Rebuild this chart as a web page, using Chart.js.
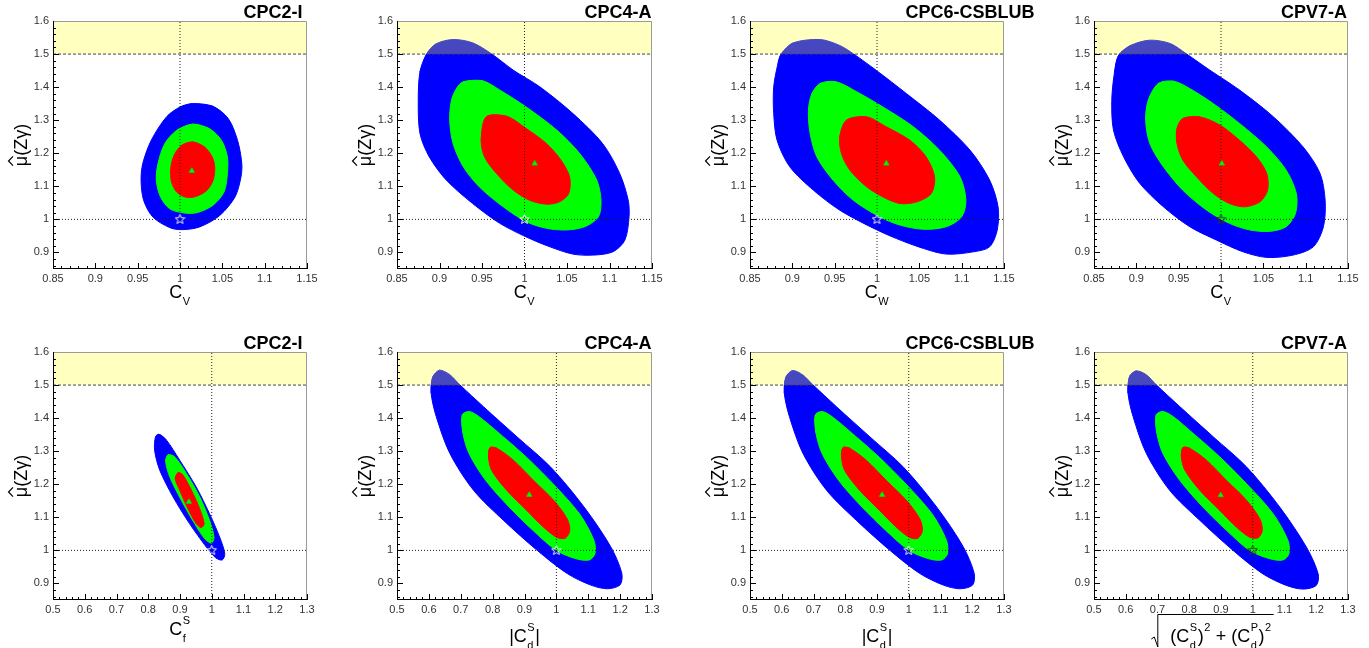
<!DOCTYPE html>
<html lang="en">
<head>
<meta charset="UTF-8">
<title>mu_zgamma_contours</title>
<script src="https://cdn.jsdelivr.net/npm/chart.js"></script>
<style>
  body { margin: 0; background: #fff; }
  #wrap { position: relative; width: 1369px; height: 648px; overflow: hidden; }
  #wrap canvas { position: absolute; }
</style>
</head>
<body>
<div id="wrap"></div>
<script>
// ---- axis ticks / ranges ----
const xTicksTop = [0.85, 0.9, 0.95, 1, 1.05, 1.1, 1.15];
const xTicksBottom = [0.5, 0.6, 0.7, 0.8, 0.9, 1, 1.1, 1.2, 1.3];
const yTicks = [0.9, 1, 1.1, 1.2, 1.3, 1.4, 1.5, 1.6];
const yRange = [0.85, 1.6];
const excludedBand = [1.5, 1.6];
const smPoint = [1, 1];
const models = ['CPC2-I', 'CPC4-A', 'CPC6-CSBLUB', 'CPV7-A'];

// ---- contours [x, y] (blue = 3 sigma, green = 2 sigma, red = 1 sigma) ----
// top row: C_V / C_W
const cpc2TopBlue = [[1.015,1.350],[1.039,1.342],[1.057,1.305],[1.068,1.239],[1.073,1.169],[1.072,1.128],[1.065,1.068],[1.047,1.012],[1.023,0.977],[1.002,0.969],[0.988,0.975],[0.968,1.007],[0.957,1.058],[0.954,1.118],[0.956,1.169],[0.966,1.239],[0.984,1.310],[1.000,1.340]];
const cpc2TopGreen = [[1.015,1.288],[1.035,1.274],[1.049,1.239],[1.056,1.189],[1.056,1.138],[1.052,1.083],[1.039,1.043],[1.021,1.021],[1.006,1.019],[0.988,1.032],[0.977,1.068],[0.972,1.118],[0.974,1.169],[0.982,1.229],[0.996,1.269]];
const cpc2TopRed = [[1.015,1.234],[1.029,1.219],[1.038,1.189],[1.041,1.158],[1.039,1.118],[1.031,1.086],[1.017,1.068],[1.006,1.068],[0.996,1.083],[0.990,1.113],[0.989,1.153],[0.993,1.194],[1.002,1.224]];
const cpc2TopBest = [1.014, 1.147];

const cpc4TopBlue = [[0.885,1.501],[0.896,1.531],[0.916,1.544],[0.939,1.534],[0.961,1.501],[0.987,1.451],[1.018,1.401],[1.057,1.320],[1.092,1.229],[1.112,1.139],[1.122,1.058],[1.123,1.008],[1.118,0.937],[1.104,0.902],[1.081,0.892],[1.057,0.895],[1.030,0.917],[1.002,0.947],[0.971,0.988],[0.939,1.048],[0.908,1.119],[0.888,1.189],[0.877,1.260],[0.875,1.360],[0.877,1.446]];
const cpc4TopGreen = [[0.928,1.416],[0.951,1.419],[0.971,1.391],[1.002,1.340],[1.038,1.270],[1.065,1.199],[1.085,1.119],[1.090,1.058],[1.087,1.008],[1.071,0.978],[1.049,0.968],[1.026,0.973],[1.002,0.993],[0.975,1.038],[0.947,1.098],[0.928,1.159],[0.916,1.229],[0.912,1.300],[0.914,1.360],[0.920,1.396]];
const cpc4TopRed = [[0.955,1.310],[0.979,1.312],[1.002,1.275],[1.026,1.229],[1.043,1.179],[1.053,1.129],[1.052,1.078],[1.041,1.053],[1.026,1.046],[1.006,1.058],[0.987,1.088],[0.967,1.139],[0.953,1.189],[0.949,1.239]];
const cpc4TopBest = [1.012, 1.169];

const cpc6TopBlue = [[0.887,1.501],[0.901,1.534],[0.933,1.544],[0.956,1.526],[0.972,1.501],[0.999,1.451],[1.035,1.380],[1.074,1.300],[1.110,1.209],[1.133,1.119],[1.143,1.038],[1.142,0.968],[1.133,0.917],[1.114,0.902],[1.082,0.895],[1.055,0.912],[1.023,0.942],[0.992,0.978],[0.956,1.028],[0.925,1.088],[0.897,1.159],[0.882,1.239],[0.878,1.320],[0.878,1.401],[0.883,1.471]];
const cpc6TopGreen = [[0.933,1.411],[0.952,1.416],[0.976,1.386],[1.007,1.340],[1.043,1.280],[1.074,1.209],[1.098,1.129],[1.105,1.058],[1.100,1.008],[1.082,0.978],[1.055,0.970],[1.027,0.983],[1.003,1.008],[0.972,1.058],[0.948,1.119],[0.929,1.189],[0.921,1.260],[0.919,1.330],[0.923,1.380]];
const cpc6TopRed = [[0.964,1.300],[0.988,1.310],[1.011,1.280],[1.039,1.239],[1.058,1.189],[1.068,1.129],[1.064,1.078],[1.047,1.053],[1.027,1.048],[1.007,1.068],[0.988,1.098],[0.968,1.149],[0.958,1.199],[0.956,1.250]];
const cpc6TopBest = [1.011, 1.169];

const cpv7TopBlue = [[0.879,1.496],[0.893,1.526],[0.916,1.542],[0.940,1.532],[0.959,1.501],[0.987,1.451],[1.022,1.391],[1.062,1.310],[1.097,1.219],[1.117,1.139],[1.123,1.058],[1.121,0.978],[1.109,0.917],[1.085,0.892],[1.054,0.885],[1.026,0.902],[0.995,0.937],[0.963,0.978],[0.932,1.038],[0.904,1.109],[0.885,1.189],[0.873,1.270],[0.871,1.360],[0.874,1.441]];
const cpv7TopGreen = [[0.926,1.411],[0.944,1.418],[0.963,1.396],[0.991,1.350],[1.022,1.290],[1.054,1.219],[1.077,1.149],[1.089,1.078],[1.088,1.018],[1.077,0.978],[1.058,0.964],[1.034,0.968],[1.010,0.988],[0.983,1.028],[0.955,1.088],[0.932,1.159],[0.916,1.229],[0.911,1.300],[0.914,1.360]];
const cpv7TopRed = [[0.955,1.305],[0.975,1.310],[0.999,1.285],[1.022,1.239],[1.042,1.189],[1.054,1.139],[1.055,1.088],[1.046,1.053],[1.028,1.038],[1.010,1.048],[0.991,1.078],[0.971,1.129],[0.955,1.179],[0.948,1.229],[0.948,1.275]];
const cpv7TopBest = [1.001, 1.169];

// bottom row: C_f^S, |C_d^S|, sqrt((C_d^S)^2 + (C_d^P)^2)
const cpc2BotBlue = [[0.834,1.351],[0.857,1.334],[0.899,1.273],[0.951,1.192],[0.993,1.111],[1.025,1.040],[1.041,0.990],[1.033,0.971],[1.012,0.978],[0.983,1.010],[0.930,1.081],[0.878,1.162],[0.836,1.243],[0.820,1.303],[0.823,1.344]];
const cpc2BotGreen = [[0.862,1.289],[0.883,1.283],[0.920,1.233],[0.962,1.162],[0.993,1.091],[1.007,1.040],[0.999,1.022],[0.978,1.035],[0.946,1.081],[0.904,1.152],[0.868,1.222],[0.855,1.268]];
const cpc2BotRed = [[0.894,1.235],[0.909,1.228],[0.936,1.182],[0.962,1.126],[0.976,1.081],[0.967,1.069],[0.951,1.081],[0.925,1.126],[0.899,1.182],[0.885,1.217]];
const cpc2BotBest = [0.928, 1.147];

const cpc4BotBlue = [[0.612,1.524],[0.633,1.545],[0.665,1.532],[0.697,1.501],[0.772,1.434],[0.877,1.343],[0.982,1.252],[1.087,1.131],[1.170,1.012],[1.205,0.932],[1.200,0.896],[1.160,0.884],[1.108,0.895],[1.034,0.930],[0.940,1.000],[0.835,1.090],[0.740,1.182],[0.666,1.293],[0.623,1.405],[0.607,1.476]];
const cpc4BotGreen = [[0.705,1.410],[0.727,1.420],[0.758,1.404],[0.822,1.353],[0.906,1.282],[0.990,1.201],[1.073,1.110],[1.118,1.030],[1.121,0.990],[1.103,0.971],[1.061,0.975],[1.000,1.000],[0.926,1.061],[0.852,1.131],[0.778,1.212],[0.726,1.293],[0.707,1.354]];
const cpc4BotRed = [[0.792,1.311],[0.813,1.309],[0.866,1.272],[0.929,1.211],[0.992,1.151],[1.034,1.095],[1.042,1.060],[1.028,1.037],[1.002,1.039],[0.960,1.070],[0.908,1.120],[0.845,1.181],[0.797,1.242],[0.787,1.283]];
const cpc4BotBest = [0.915, 1.168];

const cpc6BotBlue = [[0.613,1.524],[0.634,1.544],[0.666,1.531],[0.698,1.501],[0.773,1.434],[0.878,1.343],[0.983,1.252],[1.088,1.131],[1.171,1.012],[1.206,0.931],[1.201,0.895],[1.161,0.884],[1.109,0.895],[1.035,0.930],[0.941,1.000],[0.836,1.090],[0.741,1.182],[0.667,1.293],[0.624,1.405],[0.608,1.476]];
const cpc6BotGreen = [[0.706,1.410],[0.728,1.420],[0.759,1.404],[0.823,1.353],[0.907,1.282],[0.991,1.201],[1.074,1.110],[1.119,1.030],[1.122,0.990],[1.104,0.971],[1.062,0.975],[1.001,1.000],[0.927,1.061],[0.853,1.131],[0.779,1.212],[0.727,1.293],[0.708,1.354]];
const cpc6BotRed = [[0.793,1.311],[0.814,1.309],[0.867,1.272],[0.930,1.211],[0.993,1.151],[1.035,1.095],[1.043,1.060],[1.029,1.037],[1.003,1.039],[0.961,1.070],[0.909,1.120],[0.846,1.181],[0.798,1.242],[0.788,1.283]];
const cpc6BotBest = [0.916, 1.168];

const cpv7BotBlue = [[0.612,1.526],[0.633,1.543],[0.665,1.531],[0.696,1.501],[0.770,1.435],[0.875,1.344],[0.980,1.253],[1.085,1.131],[1.169,1.010],[1.206,0.929],[1.200,0.894],[1.158,0.883],[1.106,0.894],[1.032,0.929],[0.938,1.000],[0.833,1.091],[0.738,1.182],[0.665,1.293],[0.623,1.405],[0.607,1.476]];
const cpv7BotGreen = [[0.696,1.410],[0.717,1.420],[0.749,1.405],[0.812,1.354],[0.896,1.283],[0.980,1.202],[1.064,1.111],[1.111,1.030],[1.114,0.990],[1.095,0.971],[1.053,0.975],[0.990,1.000],[0.917,1.061],[0.843,1.131],[0.770,1.212],[0.717,1.293],[0.698,1.354]];
const cpv7BotRed = [[0.780,1.311],[0.801,1.309],[0.854,1.273],[0.917,1.212],[0.980,1.152],[1.022,1.096],[1.030,1.061],[1.017,1.038],[0.990,1.040],[0.948,1.071],[0.896,1.121],[0.833,1.182],[0.786,1.243],[0.775,1.283]];
const cpv7BotBest = [0.899, 1.167];

// ---- axis titles (rich text parts) ----
const labCV = [{t: 'C'}, {sub: 'V'}];
const labCW = [{t: 'C'}, {sub: 'W'}];
const labCfS = [{t: 'C'}, {sub: 'f', sup: 'S'}];
const labCdS = [{t: '|C'}, {sub: 'd', sup: 'S'}, {t: '|'}];
const labSqrt = [{t: '(C'}, {sub: 'd', sup: 'S'}, {t: ')'}, {sup: '2'}, {t: ' + (C'}, {sub: 'd', sup: 'P'}, {t: ')'}, {sup: '2'}];

const FONT = '"Liberation Sans", Arial, Helvetica, sans-serif';

const panels = [
  {model: models[0], blue: cpc2TopBlue, green: cpc2TopGreen, red: cpc2TopRed, best: cpc2TopBest, xTicks: xTicksTop, minor: 0.01, label: labCV, labBase: 298, plotL: 53, plotW: 254, top: 0, row: 0},
  {model: models[1], blue: cpc4TopBlue, green: cpc4TopGreen, red: cpc4TopRed, best: cpc4TopBest, xTicks: xTicksTop, minor: 0.01, label: labCV, labBase: 298, plotL: 397, plotW: 255, top: 0, row: 0},
  {model: models[2], blue: cpc6TopBlue, green: cpc6TopGreen, red: cpc6TopRed, best: cpc6TopBest, xTicks: xTicksTop, minor: 0.01, label: labCW, labBase: 298, plotL: 750, plotW: 254, top: 0, row: 0},
  {model: models[3], blue: cpv7TopBlue, green: cpv7TopGreen, red: cpv7TopRed, best: cpv7TopBest, xTicks: xTicksTop, minor: 0.01, label: labCV, labBase: 298, plotL: 1094, plotW: 254, top: 0, row: 0, dark: true},
  {model: models[0], blue: cpc2BotBlue, green: cpc2BotGreen, red: cpc2BotRed, best: cpc2BotBest, xTicks: xTicksBottom, minor: 0.02, label: labCfS, labBase: 311, plotL: 53, plotW: 254, top: 324, row: 1},
  {model: models[1], blue: cpc4BotBlue, green: cpc4BotGreen, red: cpc4BotRed, best: cpc4BotBest, xTicks: xTicksBottom, minor: 0.02, label: labCdS, labBase: 318, plotL: 397, plotW: 255, top: 324, row: 1},
  {model: models[2], blue: cpc6BotBlue, green: cpc6BotGreen, red: cpc6BotRed, best: cpc6BotBest, xTicks: xTicksBottom, minor: 0.02, label: labCdS, labBase: 318, plotL: 750, plotW: 254, top: 324, row: 1},
  {model: models[3], blue: cpv7BotBlue, green: cpv7BotGreen, red: cpv7BotRed, best: cpv7BotBest, xTicks: xTicksBottom, minor: 0.02, label: labSqrt, labBase: 318, plotL: 1094, plotW: 254, top: 324, row: 1, sqrt: true, dark: true}
];

const fmt = v => String(parseFloat(Number(v).toFixed(2)));
const toXY = pts => pts.map(p => ({x: p[0], y: p[1]}));

// closed, smooth outline: wrap around so the spline has neighbours at the seam
function contour(pts, color, order) {
  const n = pts.length;
  const closed = [pts[n - 1]].concat(pts, [pts[0], pts[1]]);
  return {data: toXY(closed), fill: 'shape', backgroundColor: color, borderColor: color, borderWidth: 1,
          pointRadius: 0, tension: 0.3, order: order};
}

function starMarker(color) {
  const c = document.createElement('canvas');
  c.width = 11; c.height = 11;
  const g = c.getContext('2d');
  g.strokeStyle = color; g.lineWidth = 1;
  g.beginPath();
  for (let i = 0; i < 10; i++) {
    const r = i % 2 ? 2.2 : 5;
    const a = -Math.PI / 2 + i * Math.PI / 5;
    const px = 5.5 + r * Math.cos(a), py = 5.5 + r * Math.sin(a);
    if (i) g.lineTo(px, py); else g.moveTo(px, py);
  }
  g.closePath(); g.stroke();
  return c;
}

// rich text with sub/superscripts, centred on cx
function drawRich(ctx, parts, cx, base, size) {
  const small = Math.round(size * 0.62);
  const big = size + 'px ' + FONT, sm = small + 'px ' + FONT;
  const widths = parts.map(pt => {
    if (pt.t !== undefined) { ctx.font = big; return ctx.measureText(pt.t).width; }
    ctx.font = sm;
    return Math.max(pt.sub ? ctx.measureText(pt.sub).width : 0, pt.sup ? ctx.measureText(pt.sup).width : 0) + 1;
  });
  const total = widths.reduce((s, w) => s + w, 0);
  let xx = cx - total / 2;
  ctx.textAlign = 'left';
  ctx.textBaseline = 'alphabetic';
  parts.forEach((pt, i) => {
    if (pt.t !== undefined) { ctx.font = big; ctx.fillText(pt.t, xx, base); }
    else {
      ctx.font = sm;
      if (pt.sub) ctx.fillText(pt.sub, xx + 0.5, base + size * 0.38);
      if (pt.sup) ctx.fillText(pt.sup, xx + 0.5, base - size * 0.62);
    }
    xx += widths[i];
  });
  return {left: cx - total / 2, right: cx + total / 2};
}

function ticksBetween(min, max, step) {
  const out = [];
  const n0 = Math.ceil(min / step - 1e-6), n1 = Math.floor(max / step + 1e-6);
  for (let n = n0; n <= n1; n++) out.push(n * step);
  return out;
}

function decorations(p) {
  return {
    id: 'rootDecor',
    afterDatasetsDraw(chart) {
      const {ctx, chartArea: a, scales: {x, y}} = chart;
      ctx.save();
      ctx.strokeStyle = '#000';
      ctx.lineWidth = 1;
      ctx.beginPath();
      ticksBetween(x.min, x.max, p.minor).forEach(v => {
        const major = p.xTicks.some(t => Math.abs(t - v) < 1e-6);
        const px = Math.round(x.getPixelForValue(v)) + 0.5;
        ctx.moveTo(px, a.bottom);
        ctx.lineTo(px, a.bottom - (major ? 6 : 3));
      });
      ticksBetween(y.min, y.max, 0.02).forEach(v => {
        const major = yTicks.some(t => Math.abs(t - v) < 1e-6);
        const py = Math.round(y.getPixelForValue(v)) + 0.5;
        ctx.moveTo(a.left, py);
        ctx.lineTo(a.left + (major ? 6 : 3), py);
      });
      ctx.stroke();
      // frame
      ctx.strokeStyle = '#9a9a9a';
      ctx.beginPath();
      ctx.moveTo(Math.round(a.left) + 0.5, Math.round(a.top) + 0.5);
      ctx.lineTo(Math.round(a.right) - 0.5, Math.round(a.top) + 0.5);
      ctx.lineTo(Math.round(a.right) - 0.5, Math.round(a.bottom) - 0.5);
      ctx.stroke();
      ctx.strokeStyle = '#000';
      ctx.beginPath();
      ctx.moveTo(Math.round(a.left) + 0.5, Math.round(a.top));
      ctx.lineTo(Math.round(a.left) + 0.5, Math.round(a.bottom) - 0.5);
      ctx.lineTo(Math.round(a.right), Math.round(a.bottom) - 0.5);
      ctx.stroke();
      ctx.restore();
    },
    afterDraw(chart) {
      const {ctx, chartArea: a} = chart;
      ctx.save();
      ctx.fillStyle = '#000';
      // model name
      ctx.font = 'bold 18px ' + FONT;
      ctx.textAlign = 'center';
      ctx.textBaseline = 'alphabetic';
      ctx.fillText(p.model, a.right - 34, a.top - 3);
      // x title
      const cx = (a.left + a.right) / 2;
      const ext = drawRich(ctx, p.label, cx, p.labBase, 18);
      if (p.sqrt) {
        const L = ext.left, R = ext.right, b = p.labBase;
        ctx.strokeStyle = '#000';
        ctx.lineWidth = 1;
        ctx.beginPath();
        ctx.moveTo(L - 19, b - 3);
        ctx.lineTo(L - 16, b - 5);
        ctx.lineTo(L - 12.5, b + 5);
        ctx.lineTo(L - 12.5, b - 27.5);
        ctx.lineTo(R + 2, b - 27.5);
        ctx.stroke();
      }
      // y title, rotated
      ctx.translate(27, (a.top + a.bottom) / 2);
      ctx.rotate(-Math.PI / 2);
      ctx.font = '18px ' + FONT;
      const wMu = ctx.measureText('\u03BC').width;
      const wAll = ctx.measureText('\u03BC(Z\u03B3)').width;
      const x0 = -wAll / 2;
      ctx.textAlign = 'left';
      ctx.fillText('\u03BC(Z\u03B3)', x0, 0);
      ctx.strokeStyle = '#000';
      ctx.lineWidth = 1.2;
      ctx.beginPath();
      ctx.moveTo(x0 + 0.5, -14);
      ctx.lineTo(x0 + wMu / 2, -18.5);
      ctx.lineTo(x0 + wMu - 0.5, -14);
      ctx.stroke();
      ctx.restore();
    }
  };
}

const wrap = document.getElementById('wrap');

panels.forEach(p => {
  const plotTop = p.row ? 28 : 21;
  const plotBottom = p.row ? 276 : 269;
  const H = 324;
  const W = p.plotW + 53 + 45;
  const cv = document.createElement('canvas');
  cv.width = W; cv.height = H;
  cv.style.left = (p.plotL - 53) + 'px';
  cv.style.top = p.top + 'px';
  wrap.appendChild(cv);

  const xMin = p.xTicks[0], xMax = p.xTicks[p.xTicks.length - 1];
  const bandPts = [[xMin, excludedBand[0]], [xMax, excludedBand[0]], [xMax, excludedBand[1]], [xMin, excludedBand[1]], [xMin, excludedBand[0]]];

  const datasets = [
    contour(p.blue, '#0000ff', 6),
    contour(p.green, '#00ff00', 5),
    contour(p.red, '#ff0000', 4),
    {data: toXY(bandPts), fill: 'shape', backgroundColor: 'rgba(255,255,25,0.28)', borderColor: 'rgba(0,0,0,0)',
     borderWidth: 1, pointRadius: 0, tension: 0, order: 3},
    {data: toXY([[xMin, excludedBand[0]], [xMax, excludedBand[0]]]), borderColor: '#444', borderWidth: 1,
     borderDash: [3, 2], pointRadius: 0, fill: false, order: 2},
    {data: toXY([[xMin, smPoint[1]], [xMax, smPoint[1]]]), borderColor: '#222', borderWidth: 1,
     borderDash: [1, 2], pointRadius: 0, fill: false, order: 1},
    {data: toXY([[smPoint[0], yRange[0]], [smPoint[0], yRange[1]]]), borderColor: '#222', borderWidth: 1,
     borderDash: [1, 2], pointRadius: 0, fill: false, order: 1},
    {data: toXY([p.best]), showLine: false, pointStyle: 'triangle', pointRadius: 3, backgroundColor: '#00ff00',
     borderColor: '#00dd00', borderWidth: 1, order: 0},
    {data: toXY([smPoint]), showLine: false, pointStyle: starMarker(p.dark ? '#333' : '#f0f0ff'), pointRadius: 5, order: 0}
  ];

  new Chart(cv.getContext('2d'), {
    type: 'line',
    data: {datasets: datasets},
    options: {
      responsive: false,
      animation: false,
      events: [],
      layout: {padding: {left: 0, right: 45, top: plotTop, bottom: 0}},
      plugins: {legend: {display: false}, tooltip: {enabled: false}},
      scales: {
        x: {
          type: 'linear', min: xMin, max: xMax,
          grid: {display: false, drawTicks: false}, border: {display: false},
          ticks: {padding: 3, color: '#333', autoSkip: false, maxRotation: 0, font: {family: FONT, size: 11}, callback: v => fmt(v)},
          afterBuildTicks: s => { s.ticks = p.xTicks.map(v => ({value: v})); },
          afterFit: s => { s.height = H - plotBottom; }
        },
        y: {
          type: 'linear', min: yRange[0], max: yRange[1],
          grid: {display: false, drawTicks: false}, border: {display: false},
          ticks: {padding: 4, color: '#333', font: {family: FONT, size: 11}, callback: v => fmt(v)},
          afterBuildTicks: s => { s.ticks = yTicks.map(v => ({value: v})); },
          afterFit: s => { s.width = 53; }
        }
      }
    },
    plugins: [decorations(p)]
  });
});
</script>
</body>
</html>
